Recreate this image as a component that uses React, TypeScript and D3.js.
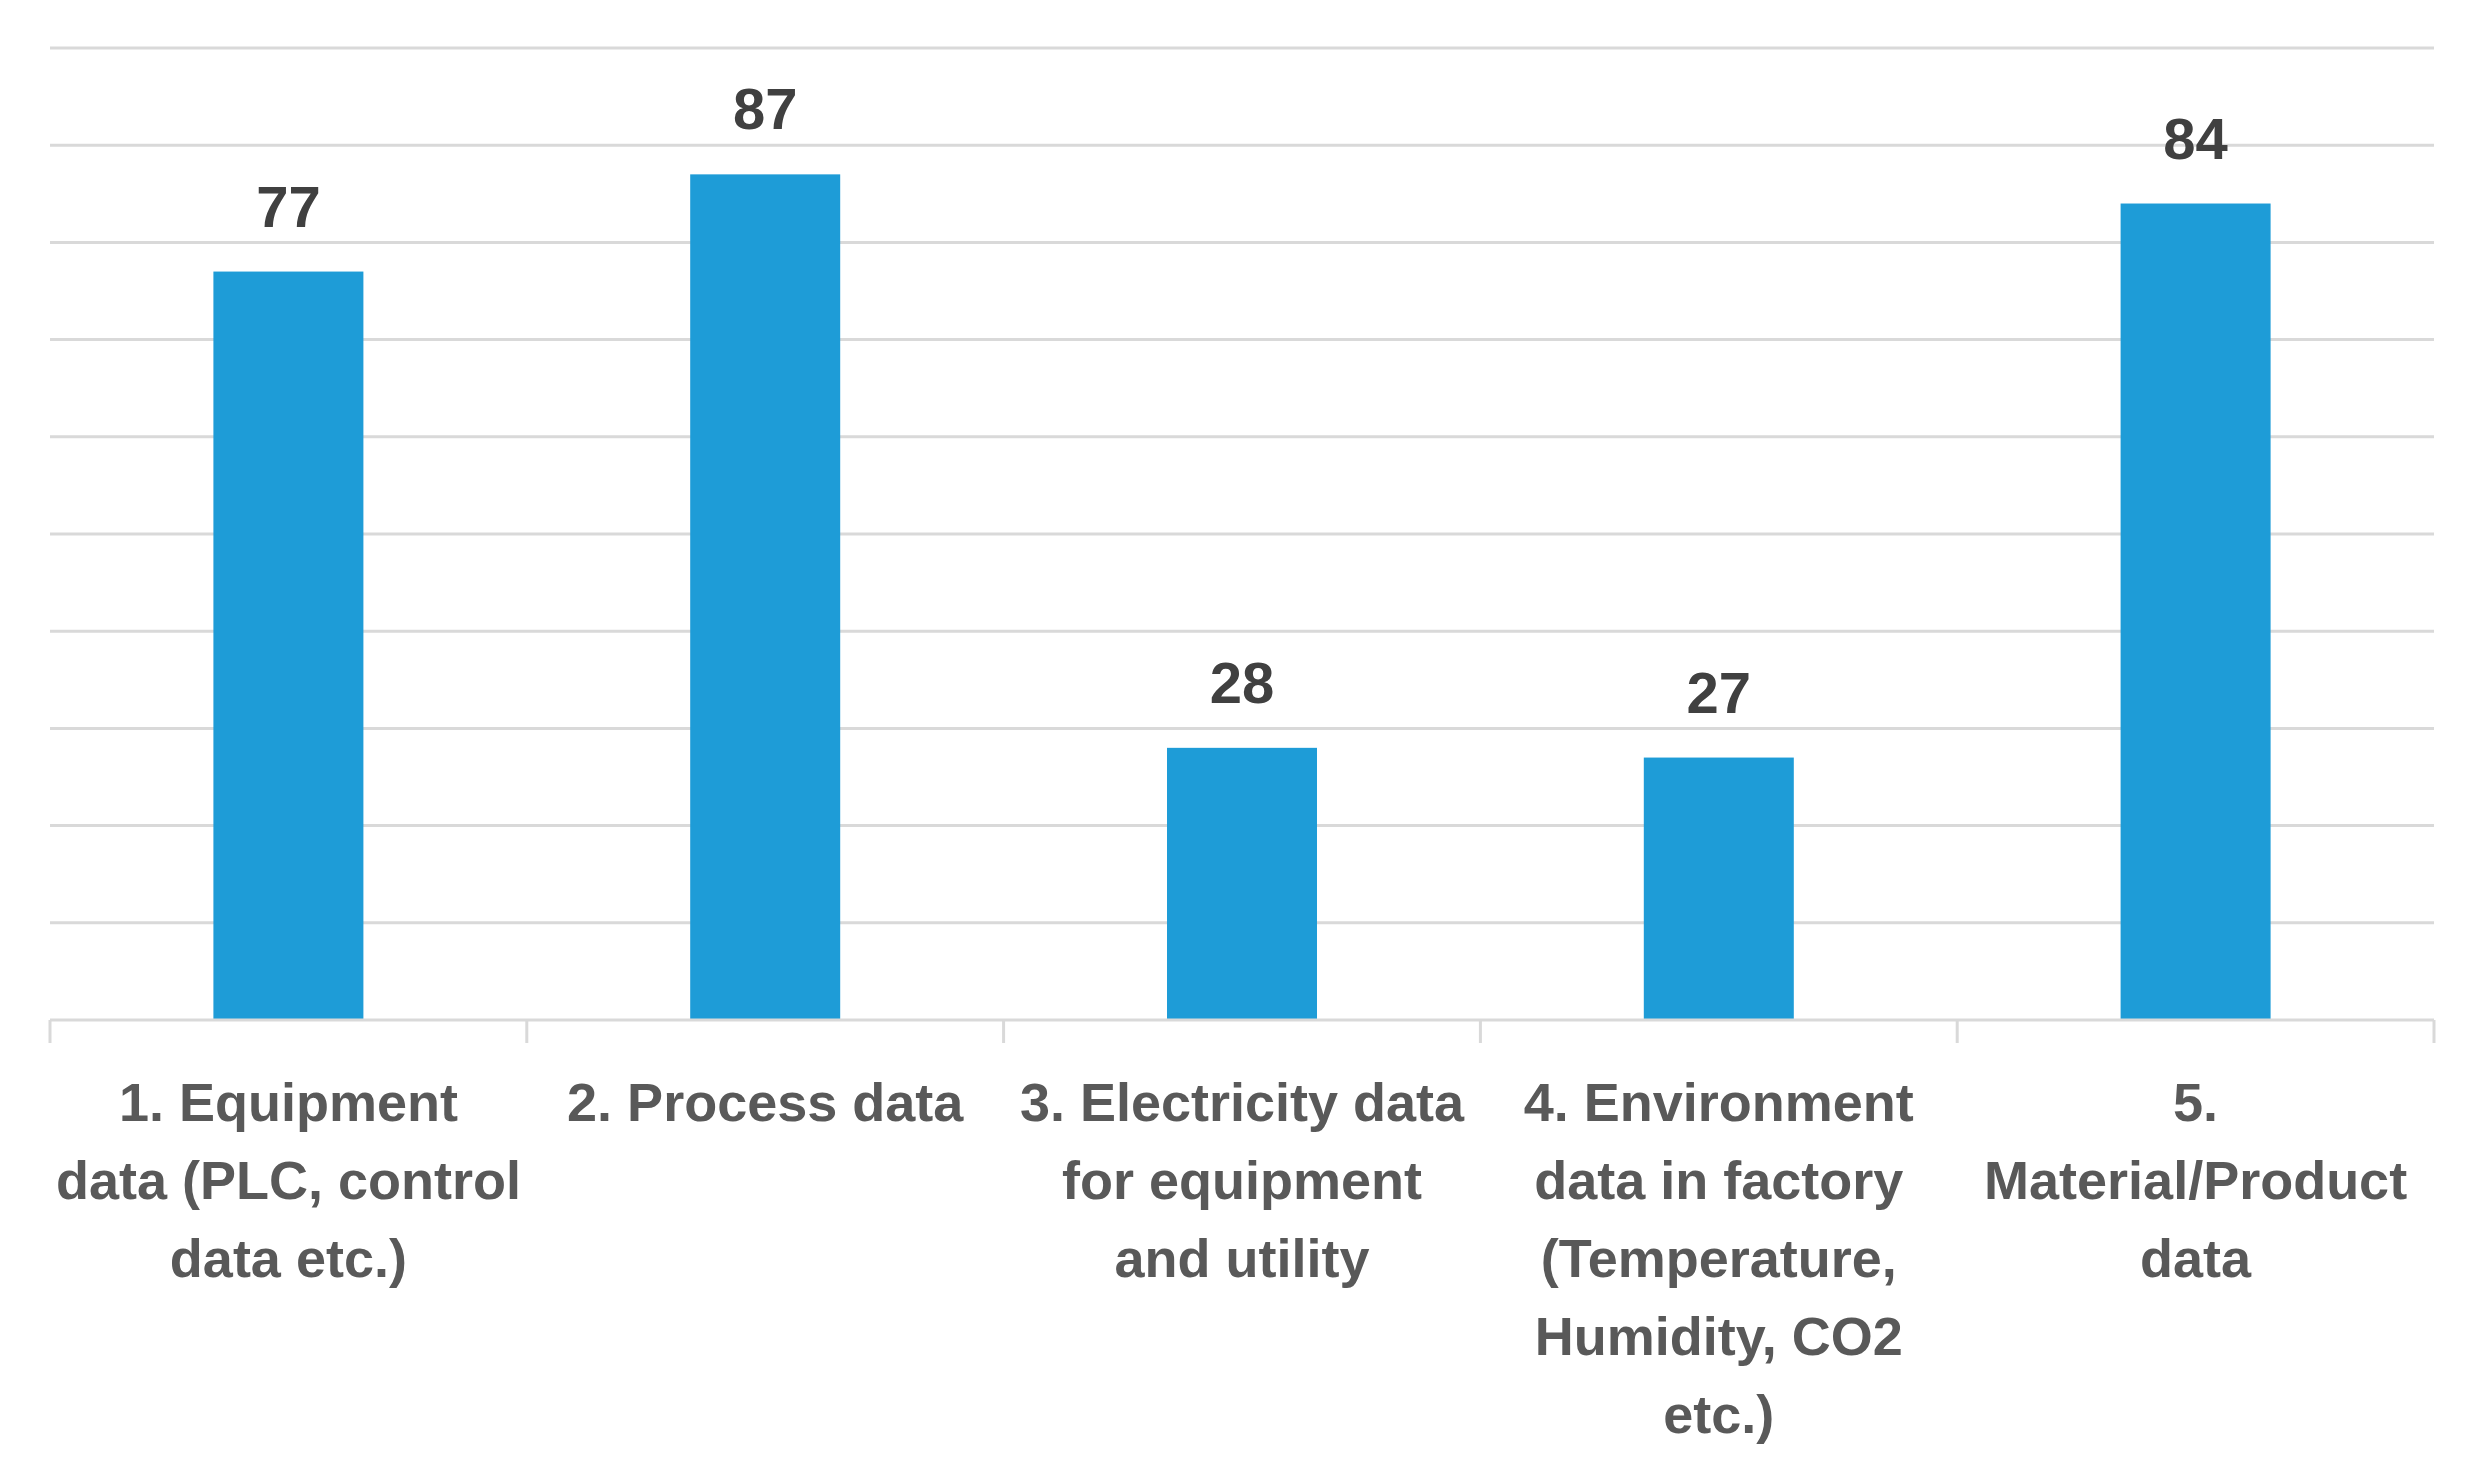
import React, { useEffect, useRef } from 'react'
import * as d3 from 'd3'

// chart data
const categories = ['1', '2', '3', '4', '5']
const values = [77, 87, 28, 27, 84]
const labelLines = [
    ['1. Equipment', 'data (PLC, control', 'data etc.)'],
    ['2. Process data'],
    ['3. Electricity data', 'for equipment', 'and utility'],
    ['4. Environment', 'data in factory', '(Temperature,', 'Humidity, CO2', 'etc.)'],
    ['5.', 'Material/Product', 'data'],
]
const gridTicks = [10, 20, 30, 40, 50, 60, 70, 80, 90, 100]

const App = () => {
    const ref = useRef<SVGSVGElement>(null)

    useEffect(() => {
        document.body.style.margin = '0'
        const width = 2471,
            height = 1469
        const left = 50,
            right = 2434,
            top = 48,
            bottom = 1020

        const svg = d3.select(ref.current)
        svg.selectAll('*').remove()

        const x = d3.scaleBand().domain(categories).range([left, right]).paddingInner(0).paddingOuter(0)
        const y = d3.scaleLinear().domain([0, 100]).range([bottom, top])
        const barW = 150

        // gridlines
        svg.append('g')
            .selectAll('line')
            .data(gridTicks)
            .join('line')
            .attr('x1', left)
            .attr('x2', right)
            .attr('y1', d => y(d))
            .attr('y2', d => y(d))
            .attr('stroke', '#d9d9d9')
            .attr('stroke-width', 3)

        // bars
        svg.append('g')
            .selectAll('rect')
            .data(values)
            .join('rect')
            .attr('x', (d, i) => x(categories[i])! + x.bandwidth() / 2 - barW / 2)
            .attr('width', barW)
            .attr('y', d => y(d))
            .attr('height', d => y(0) - y(d))
            .attr('fill', '#1e9cd7')

        // axis line + ticks
        svg.append('line')
            .attr('x1', left)
            .attr('x2', right)
            .attr('y1', y(0))
            .attr('y2', y(0))
            .attr('stroke', '#d9d9d9')
            .attr('stroke-width', 3)
        const tickXs = categories.map(c => x(c)!).concat([right])
        svg.append('g')
            .selectAll('line')
            .data(tickXs)
            .join('line')
            .attr('x1', d => d)
            .attr('x2', d => d)
            .attr('y1', y(0))
            .attr('y2', y(0) + 23)
            .attr('stroke', '#d9d9d9')
            .attr('stroke-width', 3)

        // value labels
        svg.append('g')
            .selectAll('text')
            .data(values)
            .join('text')
            .attr('x', (d, i) => x(categories[i])! + x.bandwidth() / 2)
            .attr('y', d => y(d) - 45)
            .attr('text-anchor', 'middle')
            .style('font-family', '"Liberation Sans", Arial, sans-serif')
            .style('font-weight', 'bold')
            .style('font-size', '58px')
            .attr('fill', '#404040')
            .text(d => d)

        // category labels
        const lab = svg.append('g')
            .selectAll('text')
            .data(labelLines)
            .join('text')
            .attr('text-anchor', 'middle')
            .style('font-family', '"Liberation Sans", Arial, sans-serif')
            .style('font-weight', 'bold')
            .style('font-size', '54px')
            .attr('fill', '#595959')
        lab.each(function (lines, i) {
            const cx = x(categories[i])! + x.bandwidth() / 2
            d3.select(this)
                .selectAll('tspan')
                .data(lines)
                .join('tspan')
                .attr('x', cx)
                .attr('y', (d, j) => 1121 + j * 78)
                .text(d => d)
        })

        svg.attr('width', width).attr('height', height)
    }, [])

    return <svg ref={ref} width={2471} height={1469} style={{ display: 'block', background: '#fff' }} />
}

export default App
